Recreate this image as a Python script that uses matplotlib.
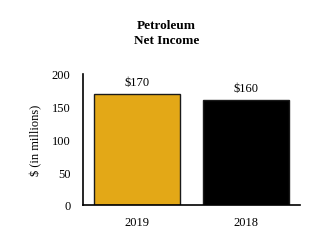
import matplotlib.pyplot as plt

plt.rcParams['font.family'] = ['Liberation Serif', 'DejaVu Serif']

years = ['2019', '2018']
income = [170, 160]
labels = ['$170', '$160']
colors = ['#E3A817', '#000000']

fig = plt.figure(figsize=(3.33, 2.53), dpi=100)
ax = fig.add_axes([0.249, 0.186, 0.652, 0.518])

bars = ax.bar(range(len(years)), income, width=0.79, color=colors,
              edgecolor='#1a1a1a', linewidth=1.0)
for i, v in enumerate(income):
    ax.text(i, v + 9, labels[i], ha='center', va='bottom', fontsize=9)

ax.set_xlim(-0.5, 1.5)
ax.set_ylim(0, 200)
ax.set_yticks([0, 50, 100, 150, 200])
ax.set_xticks(range(len(years)))
ax.set_xticklabels(years)
ax.tick_params(length=0, labelsize=9)
ax.tick_params(axis='x', pad=8)
ax.tick_params(axis='y', pad=9)
for s in ['top', 'right']:
    ax.spines[s].set_visible(False)
ax.spines['left'].set_linewidth(1.2)
ax.spines['bottom'].set_linewidth(1.2)
ax.set_ylabel('$ (in millions)', fontsize=9, labelpad=7)

fig.text(0.5, 0.868, 'Petroleum\nNet Income', ha='center', va='center',
         fontsize=9.5, fontweight='bold', linespacing=1.4)

fig.savefig('out.png', dpi=100)
